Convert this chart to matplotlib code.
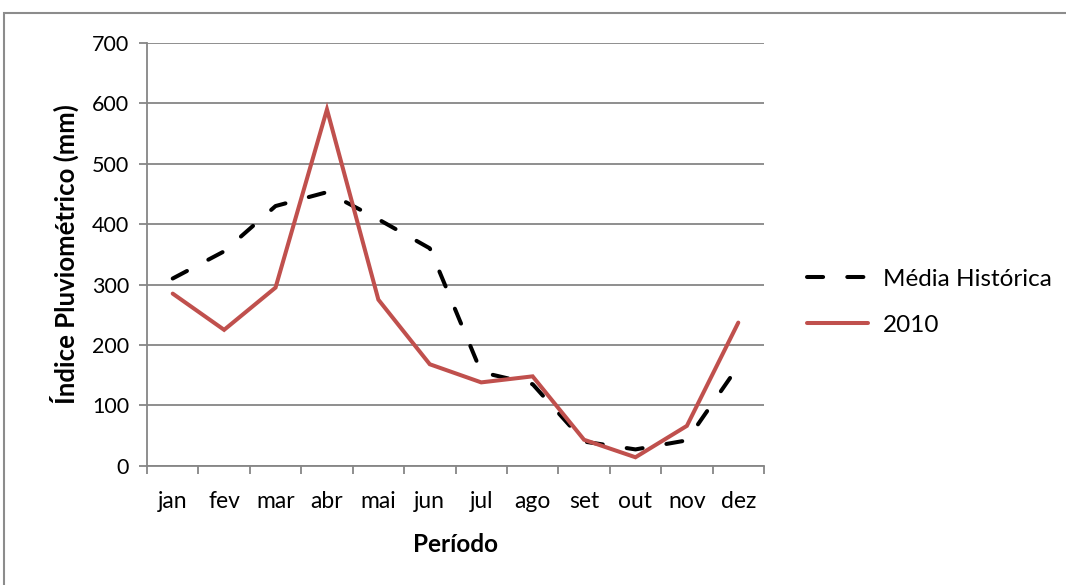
import matplotlib
matplotlib.use("Agg")
import matplotlib.pyplot as plt
from matplotlib.patches import Rectangle
import numpy as np

meses = ["jan", "fev", "mar", "abr", "mai", "jun", "jul", "ago", "set", "out", "nov", "dez"]
media_historica = [310, 355, 430, 453, 408, 360, 155, 135, 40, 27, 42, 165]
chuva_2010 = [285, 225, 295, 590, 275, 168, 138, 148, 43, 14, 66, 237]
yticks = [0, 100, 200, 300, 400, 500, 600, 700]

plt.rcParams["font.family"] = ["Lato", "DejaVu Sans"]
grid_cor = "#868686"

fig = plt.figure(figsize=(10.66, 5.85), dpi=100)
ax = fig.add_axes([0.1379, 0.2039, 0.5788, 0.7226])

# chart border
fig.patches.append(Rectangle((4 / 1066, -0.01), 1.02, 1 - 13 / 585 + 0.01,
                             transform=fig.transFigure, fill=False,
                             edgecolor="#8c8c8c", linewidth=1.5))

x = np.arange(len(meses))
ax.plot(x, media_historica, color="black", linewidth=2.9, linestyle=(0, (4, 6)),
        dash_capstyle="round", solid_capstyle="round", label="Média Histórica")
ax.plot(x, chuva_2010, color="#C0504D", linewidth=2.9,
        solid_capstyle="round", solid_joinstyle="miter", label="2010")

ax.set_xlim(-0.5, len(meses) - 0.5)
ax.set_ylim(0, 700)
ax.set_yticks(yticks)
ax.set_xticks(x)
ax.set_xticklabels(meses)
ax.set_xticks(np.arange(-0.5, len(meses)), minor=True)
ax.tick_params(axis="x", which="major", length=0, pad=18, labelsize=16.5)
ax.tick_params(axis="x", which="minor", length=6, color=grid_cor, width=1.3)
ax.tick_params(axis="y", length=6, color=grid_cor, width=1.3, pad=7, labelsize=15.5)

ax.grid(axis="y", color=grid_cor, linewidth=1.3)
ax.set_axisbelow(True)
for s in ["top", "right"]:
    ax.spines[s].set_visible(False)
for s in ["left", "bottom"]:
    ax.spines[s].set_color(grid_cor)
    ax.spines[s].set_linewidth(1.3)

ax.set_ylabel("Índice Pluviométrico (mm)", fontsize=18.5, fontweight="bold", labelpad=9)
ax.set_xlabel("Período", fontsize=17.5, fontweight="bold", labelpad=15)

fig.legend(loc="center left", bbox_to_anchor=(0.748, 0.483), frameon=False,
           fontsize=17.5, handlelength=2.5, handletextpad=0.62, labelspacing=1.03,
           borderaxespad=0)

fig.savefig("out.png", dpi=100)
